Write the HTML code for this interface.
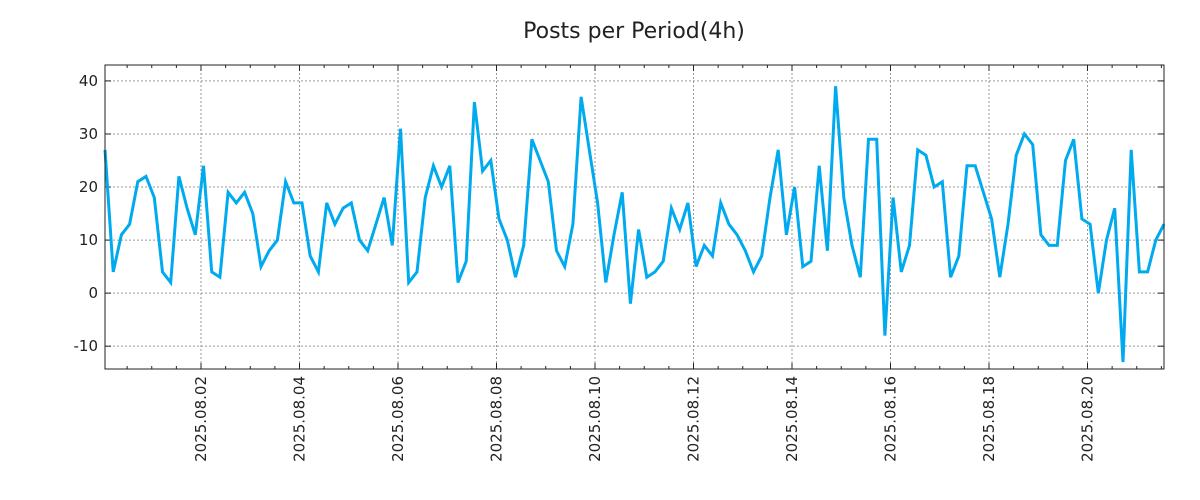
<!DOCTYPE html>
<html><head><meta charset="utf-8"><style>
body{margin:0;background:#fff;}
svg{display:block;font-family:"DejaVu Sans","Liberation Sans",sans-serif;}
</style></head><body>
<svg id="chart" width="1200" height="500">
<rect width="1200" height="500" fill="#fff"/>
<text x="634" y="38" text-anchor="middle" font-size="22" fill="#222">Posts per Period(4h)</text>
<g id="grid"></g>
<g id="axes"></g>
<g id="series"></g>
<rect x="105" y="65" width="1059" height="304" fill="none" stroke="#222" stroke-width="1"/>
</svg>
<script>
const values = [27,4,11,13,21,22,18,4,2,22,16,11,24,4,3,19,17,19,15,5,8,10,21,17,17,7,4,17,13,16,17,10,8,13,18,9,31,2,4,18,24,20,24,2,6,36,23,25,14,10,3,9,29,25,21,8,5,13,37,27,17,2,11,19,-2,12,3,4,6,16,12,17,5,9,7,17,13,11,8,4,7,18,27,11,20,5,6,24,8,39,18,9,3,29,29,-8,18,4,9,27,26,20,21,3,7,24,24,19,14,3,13,26,30,28,11,9,9,25,29,14,13,0,10,16,-13,27,4,4,10,13];
const yTicks = [-10,0,10,20,30,40];
const dateLabels = ["2025.08.02","2025.08.04","2025.08.06","2025.08.08","2025.08.10","2025.08.12","2025.08.14","2025.08.16","2025.08.18","2025.08.20"];

const X0=105,X1=1164,Y0=65,Y1=369;
const yMin=-14.3,yMax=43;
function ys(v){return Y1-(v-yMin)/(yMax-yMin)*(Y1-Y0);}
function xi(i){return X0+i*(X1-X0)/(values.length-1);}
// date axis: day index d (08.02 = 0) -> pixel
function xd(d){return 201+d*49.25;}
const NS="http://www.w3.org/2000/svg";
function mk(tag,attrs,parent){const e=document.createElementNS(NS,tag);for(const k in attrs)e.setAttribute(k,attrs[k]);parent.appendChild(e);return e;}
const grid=document.getElementById('grid'),axes=document.getElementById('axes'),series=document.getElementById('series');

yTicks.forEach(t=>{
  const y=ys(t);
  const g=mk('line',{x1:X0,x2:X1,y1:y,y2:y,stroke:'#999','stroke-dasharray':'2,2','stroke-width':1},grid);
  
  
  const a=mk('line',{x1:X0,x2:X0+6,y1:y,y2:y,stroke:'#222'},axes);
  
  
  const b=mk('line',{x1:X1-6,x2:X1,y1:y,y2:y,stroke:'#222'},axes);
  
  
  const tx=mk('text',{x:X0-7,y:y+5,'text-anchor':'end','font-size':15,fill:'#222'},axes);
  tx.textContent=String(t);
  
  
});
for(let h=-4;h<=40;h++){
  const x=xd(h/2); if(x<X0||x>X1) continue;
  const major=(h%4===0);
  const len=major?6:3;
  const t1=mk('line',{x1:x,x2:x,y1:Y1,y2:Y1-len,stroke:'#222'},axes);
  
  
  const t2=mk('line',{x1:x,x2:x,y1:Y0,y2:Y0+len,stroke:'#222'},axes);
  
  
}
dateLabels.forEach((lab,k)=>{
  const x=xd(k*2);
  const g=mk('line',{x1:x,x2:x,y1:Y0,y2:Y1,stroke:'#999','stroke-dasharray':'2,2','stroke-width':1},grid);
  
  
  const tx=mk('text',{x:0,y:0,'text-anchor':'end','font-size':15,fill:'#222',transform:`translate(${x+5},376) rotate(-90)`},axes);
  tx.textContent=lab;
  
  
});
const pts=values.map((v,i)=>xi(i).toFixed(1)+','+ys(v).toFixed(1)).join(' ');
const line=mk('polyline',{points:pts,fill:'none',stroke:'#00aaee','stroke-width':3,'stroke-linejoin':'miter'},series);


</script>
</body></html>
